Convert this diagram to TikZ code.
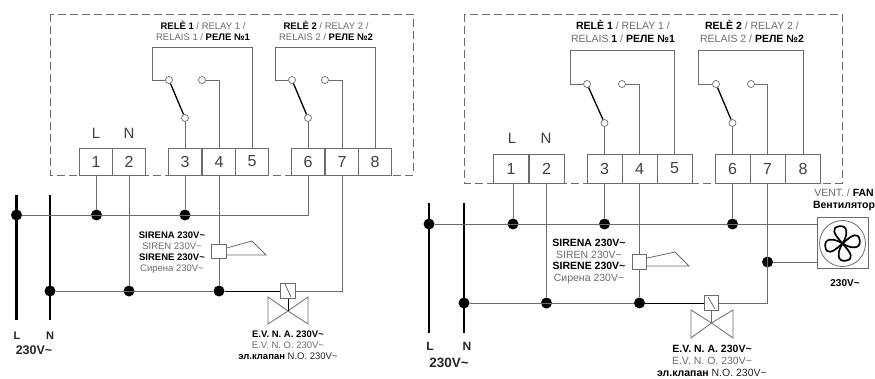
\documentclass[tikz,border=0pt]{standalone}
\usepackage{fontspec}
\setmainfont{Liberation Sans}
\usetikzlibrary{
    positioning,
    calc
}
\definecolor{wiregray}{gray}{0.42}
\definecolor{textgray}{gray}{0.42}
\tikzset{
    wire/.style={draw=wiregray, line width=0.8pt},
    hotwire/.style={draw=black, line width=0.8pt},
    mains/.style={draw=black, line width=2.6pt},
    swarm/.style={draw=black, line width=1.3pt},
    dashbox/.style={draw=wiregray, line width=0.9pt, dash pattern=on 8pt off 4pt},
    symb/.style={draw=wiregray, line width=0.8pt},
    symbox/.style={draw=wiregray, line width=0.8pt, fill=white, minimum size=14.5pt, inner sep=0pt},
    dot/.style={circle, fill=black, inner sep=0pt, minimum size=11pt},
    contact/.style={circle, draw=wiregray, line width=0.7pt, fill=white, inner sep=0pt, minimum size=7pt},
    lterm/.style={draw=wiregray, line width=0.8pt, fill=white, inner sep=0pt, outer sep=0pt, minimum width=33.5pt, minimum height=27pt, font=\fontsize{16}{16}\selectfont, text=black!75},
    rterm/.style={lterm, minimum width=35pt, minimum height=29pt},
    lnlabel/.style={font=\fontsize{15}{15}\selectfont, text=black!75},
    info/.style={align=center, font=\fontsize{9.5}{11}\selectfont, text=textgray, inner sep=0pt},
    binfo/.style={info, font=\fontsize{10.5}{12}\selectfont},
    power/.style={font=\fontsize{#1}{#1}\bfseries\selectfont, text=black!85, inner sep=0pt}
}
\newcommand{\bt}[1]{\textcolor{black}{\textbf{#1}}}
\begin{document}
\begin{tikzpicture}[x=1pt,y=-1pt]
    \useasboundingbox (0,0) rectangle (875,379);

    % Left unit
    \draw[dashbox] (50,14) rectangle (413,175);
    \foreach \num/\xpos in {1/96, 2/129, 3/185, 4/219, 5/252, 6/308, 7/342, 8/375} {
        \node[lterm] (a\num) at (\xpos,161.5) {\num};
    }
    \node[lnlabel] (aL) at (96,133) {L};
    \node[lnlabel] (aN) at (129,133) {N};

    % Left relays
    \node[info] (arel1) at (203,30.5) {\bt{RELÈ 1} / RELAY 1 /\\RELAIS 1 / \bt{РЕЛЕ №1}};
    \node[info] (arel2) at (326,30.5) {\bt{RELÈ 2} / RELAY 2 /\\RELAIS 2 / \bt{РЕЛЕ №2}};
    \node[contact] (ac1) at (169,80) {};
    \node[contact] (ao1) at (202,80) {};
    \node[contact] (am1) at (185,118) {};
    \node[contact] (ac2) at (292,80) {};
    \node[contact] (ao2) at (325,80) {};
    \node[contact] (am2) at (308,118) {};
    \draw[wire] (ac1) -- (152,80) -- (152,47) -| (a5.north);
    \draw[wire] (ao1) -| (a4.north);
    \draw[wire] (am1) -- (a3.north);
    \draw[wire] (ac2) -- (275,80) -- (275,47) -| (a8.north);
    \draw[wire] (ao2) -| (a7.north);
    \draw[wire] (am2) -- (a6.north);
    \draw[swarm] (ac1) -- (am1);
    \draw[swarm] (ac2) -- (am2);

    % Left mains
    \node[dot] (adL) at (16.5,215) {};
    \node[dot] (ad1) at (96.5,215) {};
    \node[dot] (ad3) at (185,215) {};
    \node[dot] (adN) at (50,291) {};
    \node[dot] (ad2) at (129,291) {};
    \node[dot] (ad4) at (219,291) {};
    \coordinate (aLtop) at (16.5,195);
    \coordinate (aLend) at (16.5,320);
    \coordinate (aNtop) at (50,195);
    \coordinate (aNend) at (50,320);
    \draw[mains] (aLtop) -- (aLend);
    \draw[mains] (aNtop) -- (aNend);
    \draw[wire] (adL) -| (a6.south);
    \draw[wire] (ad1 |- a1.south) -- (ad1);
    \draw[wire] (a2.south) -- (ad2);
    \draw[wire] (a3.south) -- (ad3);
    \draw[wire] (a4.south) -- (ad4);

    % Left siren and valve
    \node[symbox] (asir) at (219,251.5) {};
    \draw[symb] (asir.east |- 0,248) -- (252,241) -- (266,255) -- (asir.east |- 0,255);
    \node[symbox] (acoil) at (288,291) {};
    \draw[wire] (adN) -- (ad4);
    \draw[hotwire] (ad4) -- (acoil);
    \draw[wire] (acoil) -| (a7.south);
    \draw[symb] (285,284) -- (291,297);
    \coordinate (avalve) at (288,311);
    \draw[symb] (avalve) -- (268,297) -- (268,324) -- cycle;
    \draw[symb] (avalve) -- (308,297) -- (308,324) -- cycle;
    \draw[hotwire] (acoil) -- (avalve);

    % Left labels
    \node[info] (asirtxt) at (172,252.5) {\bt{SIRENA 230V\textasciitilde}\\SIREN 230V\textasciitilde\\\bt{SIRENE 230V\textasciitilde}\\Сирена 230V\textasciitilde};
    \node[info] (aevtxt) at (288,345) {\bt{E.V. N. A. 230V\textasciitilde}\\E.V. N. O. 230V\textasciitilde\\\bt{эл.клапан} \textcolor{black!85}{N.O. 230V\textasciitilde}};
    \node[power=11] (aLtxt) at (17,336) {L};
    \node[power=11] (aNtxt) at (50,336) {N};
    \node[power=12.5] (avolt) at (34,350) {230V\textasciitilde};

    % Right unit
    \draw[dashbox] (464,14) rectangle (842,183);
    \foreach \num/\xpos in {1/511, 2/546.5, 3/604.5, 4/639.5, 5/674.5, 6/732.5, 7/767.5, 8/803} {
        \node[rterm] (b\num) at (\xpos,168.5) {\num};
    }
    \node[lnlabel] (bL) at (512,138) {L};
    \node[lnlabel] (bN) at (546,138) {N};

    % Right relays
    \node[binfo, font=\fontsize{10.5}{12.6}\selectfont] (brel1) at (623,31.5) {\bt{RELÈ 1} / RELAY 1 /\\RELAIS \bt{1} / \bt{РЕЛЕ №1}};
    \node[binfo, font=\fontsize{10.5}{12.6}\selectfont] (brel2) at (752,31.5) {\bt{RELÈ 2} / RELAY 2 /\\RELAIS 2 / \bt{РЕЛЕ №2}};
    \node[contact] (bc1) at (587,84) {};
    \node[contact] (bo1) at (622,84) {};
    \node[contact] (bm1) at (604.5,123) {};
    \node[contact] (bc2) at (716,84) {};
    \node[contact] (bo2) at (751,84) {};
    \node[contact] (bm2) at (732.5,123) {};
    \draw[wire] (bc1) -- (570,84) -- (570,50) -| (b5.north);
    \draw[wire] (bo1) -| (b4.north);
    \draw[wire] (bm1) -- (b3.north);
    \draw[wire] (bc2) -- (698,84) -- (698,50) -| (b8.north);
    \draw[wire] (bo2) -| (b7.north);
    \draw[wire] (bm2) -- (b6.north);
    \draw[swarm] (bc1) -- (bm1);
    \draw[swarm] (bc2) -- (bm2);

    % Right fan
    \node[draw=wiregray, line width=1pt, fill=white, minimum width=51pt, minimum height=51pt, inner sep=0pt] (bfan) at (842.5,243.5) {};
    \draw[symb] (bfan.center) circle (23);
    \foreach \ang in {10,100,190,280} {
        \draw[draw=black, line width=1.7pt, rotate around={\ang:(bfan.center)}] (bfan.center) .. controls (835,232) and (834,226) .. (842,226) .. controls (851,226) and (850,235) .. (bfan.center);
    }

    % Right mains
    \node[dot] (bdL) at (429,224) {};
    \node[dot] (bd1) at (513,224) {};
    \node[dot] (bd3) at (604.5,224) {};
    \node[dot] (bd6) at (732.5,224) {};
    \node[dot] (bdN) at (464,303) {};
    \node[dot] (bd2) at (546.5,303) {};
    \node[dot] (bd4) at (639.5,303) {};
    \node[dot] (bd7) at (767.5,262) {};
    \coordinate (bLtop) at (429,203);
    \coordinate (bLend) at (429,333);
    \coordinate (bNtop) at (464,203);
    \coordinate (bNend) at (464,333);
    \draw[mains] (bLtop) -- (bLend);
    \draw[mains] (bNtop) -- (bNend);
    \draw[wire] (bdL) -- (bfan.west |- bdL);
    \draw[wire] (bd1 |- b1.south) -- (bd1);
    \draw[wire] (b2.south) -- (bd2);
    \draw[wire] (b3.south) -- (bd3);
    \draw[wire] (b4.south) -- (bd4);
    \draw[wire] (b6.south) -- (bd6);
    \draw[wire] (bd7) -- (bfan.west |- bd7);

    % Right siren and valve
    \node[symbox] (bsir) at (639.5,262) {};
    \draw[symb] (bsir.east |- 0,258) -- (675,252) -- (689,266) -- (bsir.east |- 0,266);
    \node[symbox] (bcoil) at (711.5,303) {};
    \draw[wire] (bdN) -- (bd4);
    \draw[hotwire] (bd4) -- (bcoil);
    \draw[wire] (bcoil) -| (b7.south);
    \draw[symb] (708,297) -- (715,309);
    \coordinate (bvalve) at (711.5,323);
    \draw[symb] (bvalve) -- (691,310) -- (691,338) -- cycle;
    \draw[symb] (bvalve) -- (733,310) -- (733,338) -- cycle;
    \draw[wire] (bcoil) -- (bvalve);

    % Right labels
    \node[binfo, font=\fontsize{10.5}{11.7}\selectfont] (bsirtxt) at (589,261.5) {\bt{SIRENA 230V\textasciitilde}\\SIREN 230V\textasciitilde\\\bt{SIRENE 230V\textasciitilde}\\Сирена 230V\textasciitilde};
    \node[binfo] (bevtxt) at (712,361) {\bt{E.V. N. A. 230V\textasciitilde}\\E.V. N. O. 230V\textasciitilde\\\bt{эл.клапан} \textcolor{black!85}{N.O. 230V\textasciitilde}};
    \node[binfo] (bfantxt) at (844,200) {VENT. / \bt{FAN}\\\bt{Вентилятор}};
    \node[binfo, font=\fontsize{10}{10}\selectfont] (bfanv) at (845,283) {\bt{230V\textasciitilde}};
    \node[power=12] (bLtxt) at (430,346) {L};
    \node[power=12] (bNtxt) at (467,346) {N};
    \node[power=13.5] (bvolt) at (449,363) {230V\textasciitilde};
\end{tikzpicture}
\end{document}
